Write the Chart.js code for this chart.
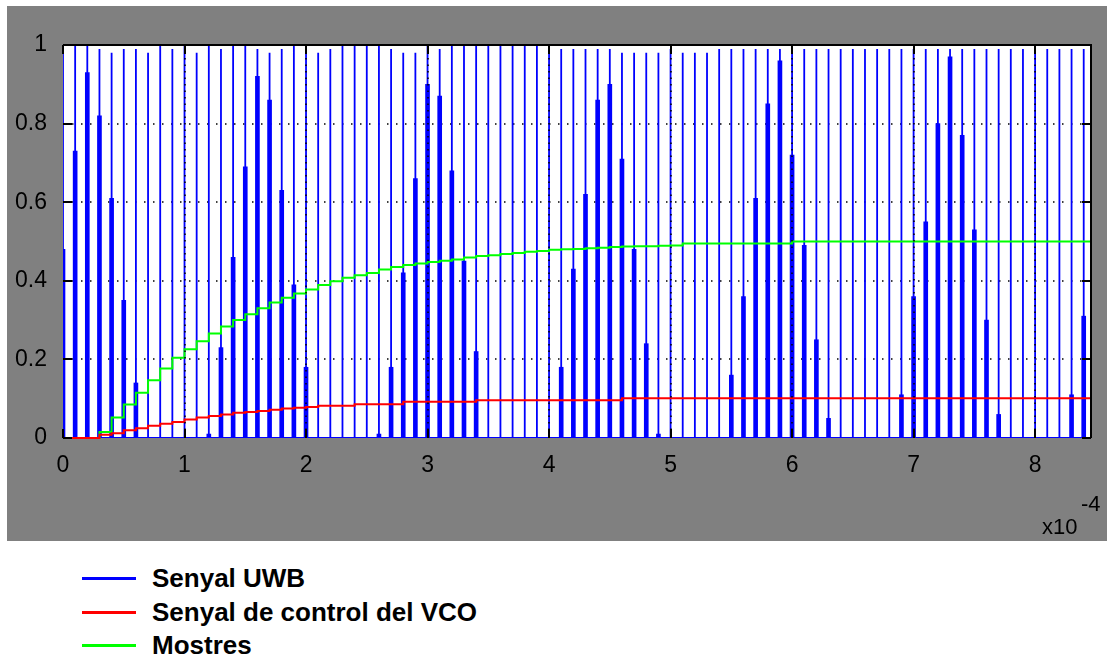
<!DOCTYPE html>
<html>
<head>
<meta charset="utf-8">
<title>Senyal UWB</title>
<script src="https://cdn.jsdelivr.net/npm/chart.js@4.4.0/dist/chart.umd.min.js"></script>
<style>
  body { margin: 0; width: 1107px; height: 663px; background: #fff; position: relative; overflow: hidden;
         font-family: "Liberation Sans", Arial, sans-serif; }
  #panel { position: absolute; left: 7px; top: 6px; width: 1100px; height: 535px; background: #808080; }
  #panel canvas { position: absolute; left: 0; top: 0; }
  .expo { position: absolute; color: #000; font-size: 22px; line-height: 22px; white-space: nowrap; }
  #legend { position: absolute; left: 82px; top: 562px; }
  .item { display: flex; align-items: center; height: 33.5px; line-height: 33.5px; font-weight: bold; font-size: 26px; color: #000; }
  .swatch { width: 54px; height: 3px; margin-right: 16px; }
</style>
</head>
<body>
<div id="panel"><canvas id="uwbChart" width="1100" height="535"></canvas></div>
<div class="expo" style="left:1042px; top:516px;">x10</div>
<div class="expo" style="left:1081px; top:493px;">-4</div>
<div id="legend"></div>

<script>
// time axis is in units of 1e-4 s
const X_MAX = 8.46;

// one UWB pulse every 1e-5 s
const pulseTimes = [
  0.0, 0.1, 0.2, 0.3, 0.4, 0.5, 0.6, 0.7, 0.8, 0.9,
  1.0, 1.1, 1.2, 1.3, 1.4, 1.5, 1.6, 1.7, 1.8, 1.9,
  2.0, 2.1, 2.2, 2.3, 2.4, 2.5, 2.6, 2.7, 2.8, 2.9,
  3.0, 3.1, 3.2, 3.3, 3.4, 3.5, 3.6, 3.7, 3.8, 3.9,
  4.0, 4.1, 4.2, 4.3, 4.4, 4.5, 4.6, 4.7, 4.8, 4.9,
  5.0, 5.1, 5.2, 5.3, 5.4, 5.5, 5.6, 5.7, 5.8, 5.9,
  6.0, 6.1, 6.2, 6.3, 6.4, 6.5, 6.6, 6.7, 6.8, 6.9,
  7.0, 7.1, 7.2, 7.3, 7.4, 7.5, 7.6, 7.7, 7.8, 7.9,
  8.0, 8.1, 8.2, 8.3, 8.4
];

// peak of the thin spike
const pulsePeaks = [
  1, 1, 1, 0.99, 0.98, 0.99, 0.99, 0.98, 1, 0.99,
  1, 0.98, 1, 0.99, 1, 1, 0.99, 0.98, 0.99, 1,
  0.99, 0.98, 0.99, 1, 1, 1, 1, 0.99, 0.98, 0.98,
  1, 0.99, 1, 1, 1, 1, 1, 1, 1, 1,
  0.99, 0.99, 0.99, 0.99, 0.99, 0.99, 0.98, 0.98, 0.98, 0.98,
  0.99, 0.98, 0.98, 0.98, 0.99, 0.99, 0.99, 0.99, 0.99, 0.99,
  0.99, 0.99, 0.99, 0.99, 0.99, 0.99, 0.99, 0.99, 0.99, 0.99,
  0.99, 0.99, 0.99, 0.99, 0.99, 0.99, 0.99, 0.99, 0.99, 0.99,
  1, 0.99, 0.99, 0.99, 0.99
];

// level of the wide part of each pulse
const pulseLevels = [
  0.48, 0.73, 0.93, 0.82, 0.61, 0.35, 0.14, 0, 0, 0,
  0, 0, 0.01, 0.23, 0.46, 0.69, 0.92, 0.86, 0.63, 0.39,
  0.18, 0, 0, 0, 0, 0, 0.01, 0.18, 0.42, 0.66,
  0.90, 0.87, 0.68, 0.45, 0.22, 0, 0, 0, 0, 0,
  0, 0.18, 0.43, 0.62, 0.86, 0.90, 0.71, 0.48, 0.24, 0.01,
  0, 0, 0, 0, 0, 0.16, 0.36, 0.61, 0.85, 0.96,
  0.72, 0.49, 0.25, 0.05, 0, 0, 0, 0, 0, 0.11,
  0.36, 0.55, 0.80, 0.97, 0.77, 0.53, 0.30, 0.06, 0, 0,
  0, 0, 0, 0.11, 0.31
];

// VCO control voltage, held from each pulse to the next
const vcoValues = [
  0, 0, 0, 0.008, 0.012, 0.020, 0.025, 0.031, 0.036, 0.041,
  0.047, 0.052, 0.056, 0.060, 0.064, 0.066, 0.069, 0.072, 0.075, 0.077,
  0.079, 0.082, 0.082, 0.082, 0.086, 0.086, 0.086, 0.086, 0.092, 0.092,
  0.092, 0.092, 0.092, 0.092, 0.096, 0.096, 0.096, 0.096, 0.096, 0.096,
  0.096, 0.096, 0.096, 0.096, 0.096, 0.096, 0.101, 0.101, 0.101, 0.101,
  0.101, 0.101, 0.101, 0.101, 0.101, 0.101, 0.101, 0.101, 0.101, 0.101,
  0.101, 0.101, 0.101, 0.101, 0.101, 0.101, 0.101, 0.101, 0.101, 0.101,
  0.101, 0.101, 0.101, 0.101, 0.101, 0.101, 0.101, 0.101, 0.101, 0.101,
  0.101, 0.101, 0.101, 0.101, 0.101
];

// samples ("Mostres")
const sampleValues = [
  0, 0, 0, 0.015, 0.052, 0.085, 0.115, 0.147, 0.177, 0.204,
  0.226, 0.246, 0.266, 0.284, 0.300, 0.315, 0.330, 0.345, 0.357, 0.368,
  0.378, 0.389, 0.399, 0.408, 0.414, 0.420, 0.429, 0.435, 0.440, 0.444,
  0.448, 0.451, 0.454, 0.459, 0.463, 0.465, 0.468, 0.471, 0.474, 0.476,
  0.479, 0.480, 0.481, 0.483, 0.484, 0.486, 0.487, 0.488, 0.488, 0.489,
  0.490, 0.495, 0.495, 0.495, 0.495, 0.495, 0.495, 0.495, 0.495, 0.495,
  0.500, 0.500, 0.500, 0.500, 0.500, 0.500, 0.500, 0.500, 0.500, 0.500,
  0.500, 0.500, 0.500, 0.500, 0.500, 0.500, 0.500, 0.500, 0.500, 0.500,
  0.500, 0.500, 0.500, 0.500, 0.500
];

const xTicks = [0, 1, 2, 3, 4, 5, 6, 7, 8];
const yTicks = [0, 0.2, 0.4, 0.6, 0.8, 1];

// build the datasets
const uwbSpikes = [];
pulseTimes.forEach((t, i) => {
  uwbSpikes.push({ x: t, y: 0 }, { x: t, y: pulsePeaks[i] }, { x: t, y: 0 });
});
uwbSpikes.push({ x: X_MAX, y: 0 });

const uwbWide = pulseTimes.map((t, i) => ({ x: t, y: pulseLevels[i] }));

const stepSeries = vals => {
  const pts = pulseTimes.map((t, i) => ({ x: t, y: vals[i] }));
  pts.push({ x: X_MAX, y: vals[vals.length - 1] });
  return pts;
};

// white plot box, dotted grid, black frame and inward ticks like matlab
const matlabBox = {
  id: 'matlabBox',
  beforeDraw(chart) {
    const { ctx, chartArea: a } = chart;
    ctx.save();
    ctx.fillStyle = '#fff';
    ctx.fillRect(a.left, a.top, a.right - a.left, a.bottom - a.top);
    ctx.restore();
  },
  beforeDatasetsDraw(chart) {
    // horizontal dotted grid, under the data
    const { ctx, chartArea: a, scales } = chart;
    ctx.save();
    ctx.strokeStyle = '#000';
    ctx.lineWidth = 1.5;
    ctx.setLineDash([1.5, 7.5]);
    ctx.beginPath();
    yTicks.slice(1, -1).forEach(v => {
      const py = Math.round(scales.y.getPixelForValue(v));
      ctx.moveTo(a.left, py); ctx.lineTo(a.right, py);
    });
    ctx.stroke();
    ctx.restore();
  },
  afterDraw(chart) {
    const { ctx, chartArea: a, scales } = chart;
    const len = 9;
    ctx.save();
    // vertical dotted grid, over the pulses
    ctx.strokeStyle = '#000';
    ctx.lineWidth = 1.5;
    ctx.setLineDash([1.5, 5]);
    ctx.beginPath();
    xTicks.slice(1).forEach(v => {
      const px = Math.round(scales.x.getPixelForValue(v));
      ctx.moveTo(px, a.top); ctx.lineTo(px, a.bottom);
    });
    ctx.stroke();
    ctx.setLineDash([]);
    ctx.lineWidth = 2;
    ctx.beginPath();
    ctx.moveTo(a.left, a.top);
    ctx.lineTo(a.right, a.top);
    ctx.lineTo(a.right, a.bottom);
    ctx.stroke();
    ctx.beginPath();
    xTicks.forEach(v => {
      const px = Math.round(scales.x.getPixelForValue(v));
      ctx.moveTo(px, a.top); ctx.lineTo(px, a.top + len);
      ctx.moveTo(px, a.bottom); ctx.lineTo(px, a.bottom - len);
    });
    yTicks.forEach(v => {
      const py = Math.round(scales.y.getPixelForValue(v));
      ctx.moveTo(a.left, py); ctx.lineTo(a.left + len, py);
      ctx.moveTo(a.right, py); ctx.lineTo(a.right - len, py);
    });
    ctx.stroke();
    ctx.restore();
  }
};

const tickFont = { family: '"Liberation Sans", Arial, sans-serif', size: 23 };

const chart = new Chart(document.getElementById('uwbChart'), {
  type: 'line',
  data: {
    datasets: [
      {
        label: 'Senyal de control del VCO',
        data: stepSeries(vcoValues),
        borderColor: '#ff0000',
        borderWidth: 2,
        stepped: 'before',
        pointRadius: 0,
        clip: 3,
        order: 0
      },
      {
        label: 'Mostres',
        data: stepSeries(sampleValues),
        borderColor: '#00ff00',
        borderWidth: 2,
        stepped: 'before',
        pointRadius: 0,
        clip: 3,
        order: 1
      },
      {
        type: 'bar',
        label: 'Senyal UWB',
        skipLegend: true,
        data: uwbWide,
        backgroundColor: '#0000ff',
        borderWidth: 0,
        barThickness: 4,
        order: 2
      },
      {
        label: 'Senyal UWB',
        data: uwbSpikes,
        borderColor: '#0000ff',
        borderWidth: 1.8,
        pointRadius: 0,
        tension: 0,
        order: 3
      }
    ]
  },
  options: {
    responsive: false,
    animation: false,
    devicePixelRatio: 1,
    layout: { padding: { left: 0, top: 39, right: 16, bottom: 0 } },
    plugins: { legend: { display: false }, tooltip: { enabled: false } },
    scales: {
      x: {
        type: 'linear',
        min: 0,
        max: X_MAX,
        offset: false,
        afterFit: s => { s.height = 103; },
        afterBuildTicks: s => { s.ticks = xTicks.map(v => ({ value: v })); },
        ticks: { font: tickFont, color: '#000', padding: 6, maxRotation: 0, callback: v => String(v) },
        grid: { display: false },
        border: { display: false }
      },
      y: {
        min: 0,
        max: 1,
        afterFit: s => { s.width = 56; },
        afterBuildTicks: s => { s.ticks = yTicks.map(v => ({ value: v })); },
        ticks: { font: tickFont, color: '#000', padding: 8, callback: v => String(v) },
        grid: { display: false },
        border: { display: false }
      }
    }
  },
  plugins: [matlabBox]
});

// legend below the grey panel, built from the datasets
const legendOrder = ['Senyal UWB', 'Senyal de control del VCO', 'Mostres'];
const legendEl = document.getElementById('legend');
legendOrder.forEach(name => {
  const ds = chart.data.datasets.find(d => d.label === name && !d.skipLegend);
  const row = document.createElement('div');
  row.className = 'item';
  const sw = document.createElement('span');
  sw.className = 'swatch';
  sw.style.background = ds.borderColor;
  const txt = document.createElement('span');
  txt.textContent = ds.label;
  row.appendChild(sw);
  row.appendChild(txt);
  legendEl.appendChild(row);
});
</script>
</body>
</html>
